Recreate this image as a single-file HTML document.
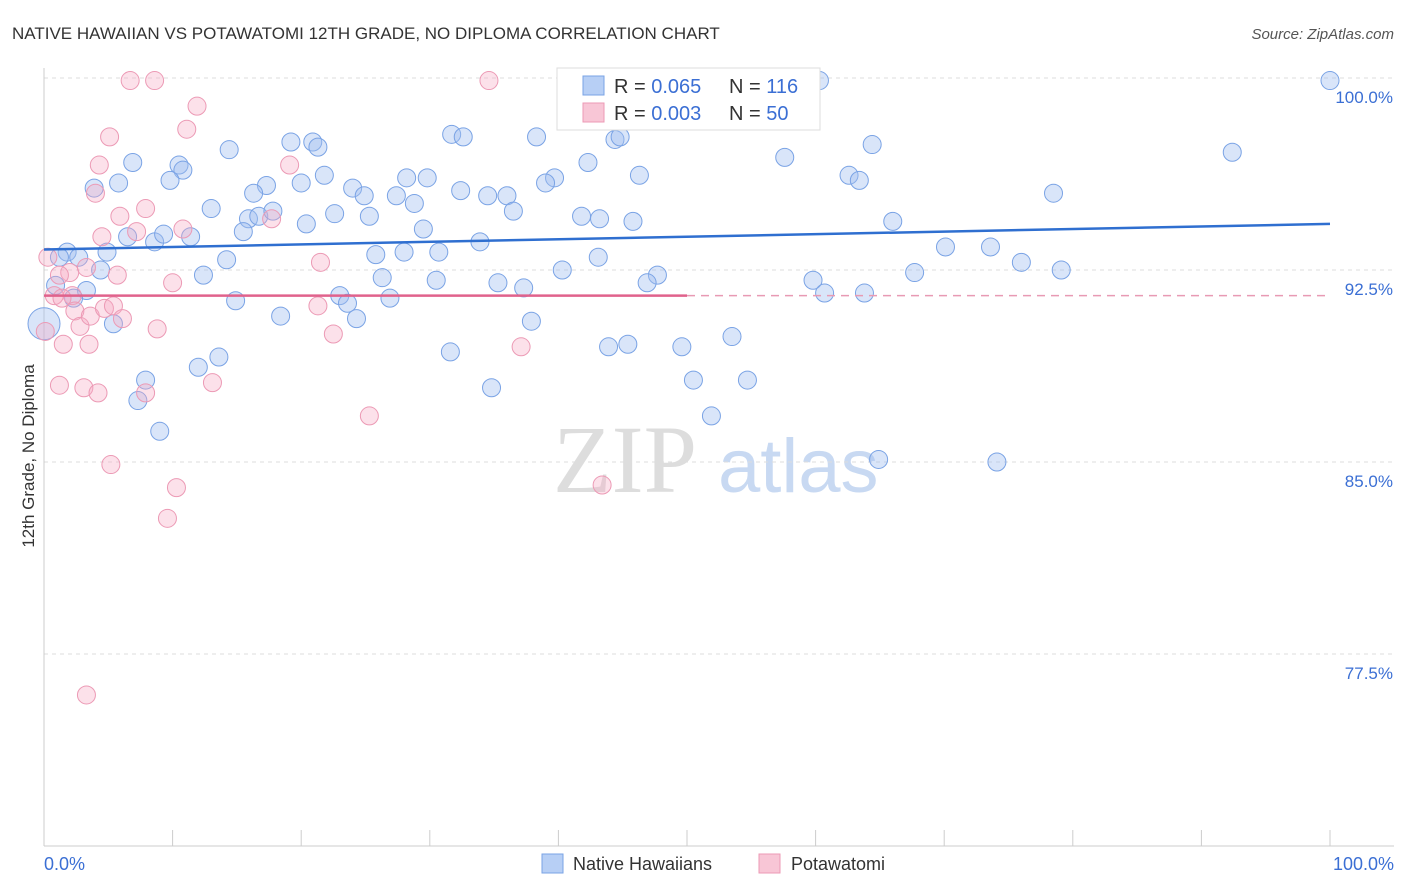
<!DOCTYPE html>
<html><head><meta charset="utf-8"><style>
body{margin:0;background:#fff;font-family:"Liberation Sans",sans-serif;}
svg{display:block}
</style></head><body>
<svg id="chart" width="1406" height="892">
<text x="12" y="39" font-size="17" fill="#333">NATIVE HAWAIIAN VS POTAWATOMI 12TH GRADE, NO DIPLOMA CORRELATION CHART</text>
<text x="1394" y="39" font-size="15" fill="#555" font-style="italic" text-anchor="end">Source: ZipAtlas.com</text>
<text x="34" y="456" font-size="17" fill="#333" text-anchor="middle" transform="rotate(-90 34 456)">12th Grade, No Diploma</text>
<g><text x="553" y="492" font-size="96" fill="#ddd" font-family="Liberation Serif,serif">ZIP</text><text x="718" y="492" font-size="76" fill="#c8d9f2">atlas</text></g>
<g id="grid"></g><g id="axes"></g><g id="pts"></g><g id="trends"></g>
<g>
<rect x="557" y="68" width="263" height="62" fill="#fff" stroke="#ddd"/>
<rect x="583" y="76" width="21" height="19" fill="#b7cff5" stroke="#7aa3e5"/>
<text x="614" y="93" font-size="20" fill="#333">R = <tspan fill="#3b6fd4">0.065</tspan></text>
<text x="729" y="93" font-size="20" fill="#333">N = <tspan fill="#3b6fd4">116</tspan></text>
<rect x="583" y="103" width="21" height="19" fill="#f8c6d6" stroke="#ec9ab5"/>
<text x="614" y="120" font-size="20" fill="#333">R = <tspan fill="#3b6fd4">0.003</tspan></text>
<text x="729" y="120" font-size="20" fill="#333">N = <tspan fill="#3b6fd4">50</tspan></text>
</g>
<g>
<rect x="542" y="854" width="21" height="19" fill="#b7cff5" stroke="#7aa3e5"/>
<text x="573" y="870" font-size="18" fill="#333">Native Hawaiians</text>
<rect x="759" y="854" width="21" height="19" fill="#f8c6d6" stroke="#ec9ab5"/>
<text x="791" y="870" font-size="18" fill="#333">Potawatomi</text>
</g>
</svg>
<script>
const blueX=[41.5,60.3,59.4,100,31.7,32.6,19.2,20.9,21.3,14.4,38.3,44.4,44.8,6.9,10.5,10.8,9.8,5.8,3.9,42.3,57.6,64.4,92.4,46.3,28.2,29.8,21.8,17.3,16.3,20.0,24.0,24.9,32.4,34.5,36.0,39.7,39.0,62.6,63.4,78.5,13.0,15.9,16.7,17.8,22.6,25.3,28.8,27.4,36.5,41.8,43.2,45.8,66.0,6.5,8.6,9.3,11.4,15.5,20.4,29.5,33.9,70.1,73.6,1.8,2.7,4.9,1.2,14.2,25.8,28.0,30.7,43.1,76.0,79.1,4.4,12.4,26.3,30.5,40.3,47.7,35.3,37.3,46.9,59.8,67.7,0.9,3.3,2.3,14.9,23.0,23.6,26.9,60.7,63.8,18.4,24.3,5.4,37.9,31.6,43.9,45.4,49.6,53.5,13.6,12.0,7.9,7.3,34.8,50.5,54.7,51.9,9.0,64.9,74.1,0];
const blueY=[99.9,99.9,99.9,99.9,97.8,97.7,97.5,97.5,97.3,97.2,97.7,97.6,97.7,96.7,96.6,96.4,96.0,95.9,95.7,96.7,96.9,97.4,97.1,96.2,96.1,96.1,96.2,95.8,95.5,95.9,95.7,95.4,95.6,95.4,95.4,96.1,95.9,96.2,96.0,95.5,94.9,94.5,94.6,94.8,94.7,94.6,95.1,95.4,94.8,94.6,94.5,94.4,94.4,93.8,93.6,93.9,93.8,94.0,94.3,94.1,93.6,93.4,93.4,93.2,93.0,93.2,93.0,92.9,93.1,93.2,93.2,93.0,92.8,92.5,92.5,92.3,92.2,92.1,92.5,92.3,92.0,91.8,92.0,92.1,92.4,91.9,91.7,91.4,91.3,91.5,91.2,91.4,91.6,91.6,90.7,90.6,90.4,90.5,89.3,89.5,89.6,89.5,89.9,89.1,88.7,88.2,87.4,87.9,88.2,88.2,86.8,86.2,85.1,85.0,90.4];
const pinkX=[6.7,8.6,34.6,11.9,5.1,11.1,4.3,19.1,4.0,7.9,5.9,10.8,17.7,4.5,7.2,0.3,2.0,1.2,5.7,10.0,21.5,0.8,2.2,0.1,2.4,2.8,3.6,4.7,5.4,6.1,8.8,22.5,21.3,1.5,3.5,37.1,1.2,3.1,4.2,13.1,7.9,25.3,5.2,10.3,43.4,9.6,3.3,3.3,1.4];
const pinkY=[99.9,99.9,99.9,98.9,97.7,98.0,96.6,96.6,95.5,94.9,94.6,94.1,94.5,93.8,94.0,93.0,92.4,92.3,92.3,92.0,92.8,91.5,91.5,90.1,90.9,90.3,90.7,91.0,91.1,90.6,90.2,90.0,91.1,89.6,89.6,89.5,88.0,87.9,87.7,88.1,87.7,86.8,84.9,84.0,84.1,82.8,75.9,92.6,91.4];
const yTicks=[100,92.5,85,77.5];
const yTickLabels=["100.0%","92.5%","85.0%","77.5%"];
const blueTrend=[93.3,94.3];
const pinkTrend=[91.5,91.5];
const NS="http://www.w3.org/2000/svg";
const sx=v=>44+v*12.86;
const sy=v=>78+(100-v)*25.6;
function mk(tag,attrs,parent){const e=document.createElementNS(NS,tag);for(const k in attrs)e.setAttribute(k,attrs[k]);document.getElementById(parent).appendChild(e);return e;}
yTicks.forEach((t,i)=>{
 const l=mk('line',{x1:44,x2:1394,y1:sy(t),y2:sy(t),stroke:'#ddd','stroke-dasharray':'4,4'},'grid');
 
 
 const tx=mk('text',{x:1393,y:sy(t)+25,'font-size':17,fill:'#3b6fd4','text-anchor':'end'},'grid');
 tx.textContent=yTickLabels[i];
 
 
});
const ax=mk('line',{x1:44,x2:44,y1:68,y2:846,stroke:'#ccc'},'axes');


const bx=mk('line',{x1:44,x2:1394,y1:846,y2:846,stroke:'#ccc'},'axes');


for(let i=0;i<=10;i++){const t=mk('line',{x1:sx(i*10),x2:sx(i*10),y1:830,y2:846,stroke:'#ccc'},'axes');
 
 }
const xl=mk('text',{x:44,y:870,'font-size':18,fill:'#3b6fd4'},'axes');xl.textContent='0.0%';


const xr=mk('text',{x:1394,y:870,'font-size':18,fill:'#3b6fd4','text-anchor':'end'},'axes');xr.textContent='100.0%';


blueX.forEach((x,i)=>{const c=mk('circle',{cx:sx(x),cy:sy(blueY[i]),r:(i===blueX.length-1)?16:9,fill:'rgba(160,190,240,0.4)',stroke:'#7aa3e5','stroke-width':1},'pts');
 
 });
pinkX.forEach((x,i)=>{const c=mk('circle',{cx:sx(x),cy:sy(pinkY[i]),r:9,fill:'rgba(245,170,195,0.35)',stroke:'#ec9ab5','stroke-width':1},'pts');
 
 });
const bt=mk('line',{x1:sx(0),y1:sy(blueTrend[0]),x2:sx(100),y2:sy(blueTrend[1]),stroke:'#2f6fd0','stroke-width':2.5},'trends');


const pm=(pinkTrend[0]+pinkTrend[1])/2;
const pt=mk('line',{x1:sx(0),y1:sy(pinkTrend[0]),x2:sx(50),y2:sy(pm),stroke:'#e0628c','stroke-width':2.5},'trends');


const pd=mk('line',{x1:sx(50),y1:sy(pm),x2:sx(100),y2:sy(pinkTrend[1]),stroke:'#e89ab4','stroke-width':1.5,'stroke-dasharray':'8,6'},'trends');


</script>
</body></html>
